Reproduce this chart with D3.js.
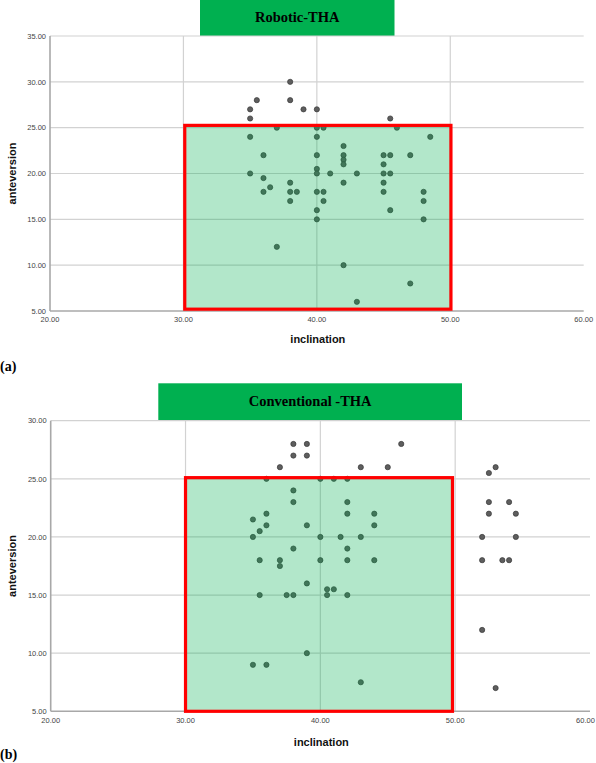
<!DOCTYPE html>
<html>
<head>
<meta charset="utf-8">
<script src="https://cdn.jsdelivr.net/npm/d3@7"></script>
<style>
  html, body { margin: 0; padding: 0; background: #fff; }
  svg { display: block; }
</style>
</head>
<body>
<svg id="chart" width="596" height="763"></svg>
<script>
// ---- Data ----
const xTicks = [20, 30, 40, 50, 60];
const yTicksA = [5, 10, 15, 20, 25, 30, 35];
const yTicksB = [5, 10, 15, 20, 25, 30];

// Robotic-THA: [inclination, anteversion]
const roboticInclination = [35.5,35,35,35,35,36,36,36,36.5,37,37,38,38,38,38,38.5,38,39,40,40,40.5,40,40,40,40,41,40,40.5,40.5,40,40,42,42,42,42,42,43,42,43,45.5,46,48.5,45,45.5,47,45,45,45.5,45,45,48,48,45.5,48,47];
const roboticAnteversion = [28,27,26,24,20,22,19.5,18,18.5,25,12,30,28,19,18,18,17,27,27,25,25,24,22,20.5,20,20,18,18,17,16,15,23,22,21.5,21,19,20,10,6,26,25,24,22,22,22,21,20,20,19,18,18,17,16,15,8];

// Conventional-THA
const convInclination = [38,39,46,38,39,37,43,45,53,52.5,36,40,41,42,38,38,42,52.5,54,36,42,44,52.5,54.5,35,36,39,44,35.5,35,40,41.5,43,52,54.5,38,42,35.5,37,40,42,44,52,53.5,54,37,39,40.5,41,35.5,37.5,38,40.5,42,52,39,35,36,43,53];
const convAnteversion = [28,28,28,27,27,26,26,26,26,25.5,25,25,25,25,24,23,23,23,23,22,22,22,22,22,21.5,21,21,21,20.5,20,20,20,20,20,20,19,19,18,18,18,18,18,18,18,18,17.5,16,15.5,15.5,15,15,15,15,15,12,10,9,9,7.5,7];

const boxA = { x0: 30.1, x1: 50.05, y0: 5.2, y1: 25.25 };
const boxB = { x0: 30.0, x1: 49.8, y0: 5.0, y1: 25.1 };

const titles = ["Robotic-THA", "Conventional -THA"];
const panelLabels = ["(a)", "(b)"];
const xLabel = "inclination";
const yLabel = "anteversion";

// ---- Drawing ----
const svg = d3.select("#chart");
const W = 596;
const green = "#00B050";

function drawPanel(cfg) {
  const g = svg.append("g");
  const x = d3.scaleLinear().domain([20, 60]).range([cfg.left, cfg.right]);
  const y = d3.scaleLinear().domain(cfg.yDomain).range([cfg.bottom, cfg.top]);

  // banner
  g.append("rect")
    .attr("x", cfg.bannerX0).attr("y", cfg.bannerY0)
    .attr("width", cfg.bannerX1 - cfg.bannerX0)
    .attr("height", cfg.bannerY1 - cfg.bannerY0)
    .attr("fill", green);
  g.append("text")
    .attr("x", (cfg.bannerX0 + cfg.bannerX1) / 2)
    .attr("y", cfg.titleBaseline)
    .attr("text-anchor", "middle")
    .attr("font-family", "'Liberation Serif', 'Times New Roman', serif")
    .attr("font-weight", "bold")
    .attr("font-size", "14.5px")
    .attr("fill", "#000")
    .text(cfg.title);

  // horizontal grid
  g.append("g").selectAll("line").data(cfg.yTicks.filter(d => d !== cfg.yDomain[0]))
    .join("line")
    .attr("x1", cfg.left).attr("x2", cfg.right)
    .attr("y1", d => y(d)).attr("y2", d => y(d))
    .attr("stroke", "#d2d2d2").attr("stroke-width", 1.2);
  // vertical grid
  g.append("g").selectAll("line").data(xTicks.filter(d => d > 20 && d < 60))
    .join("line")
    .attr("x1", d => x(d)).attr("x2", d => x(d))
    .attr("y1", cfg.top).attr("y2", cfg.bottom)
    .attr("stroke", "#d2d2d2").attr("stroke-width", 1.2);

  // axes lines
  g.append("line")
    .attr("x1", cfg.left).attr("x2", cfg.left)
    .attr("y1", cfg.top).attr("y2", cfg.bottom)
    .attr("stroke", "#a8a8a8").attr("stroke-width", 1.6);
  g.append("line")
    .attr("x1", cfg.left).attr("x2", cfg.right)
    .attr("y1", cfg.bottom).attr("y2", cfg.bottom)
    .attr("stroke", "#a8a8a8").attr("stroke-width", 1.6);

  // tick labels
  const tickFont = "'Liberation Sans', Arial, sans-serif";
  g.append("g").selectAll("text").data(cfg.yTicks)
    .join("text")
    .attr("x", cfg.left - 4)
    .attr("y", d => y(d) + 2.7)
    .attr("text-anchor", "end")
    .attr("font-family", tickFont)
    .attr("font-size", "7.5px")
    .attr("fill", "#444")
    .text(d => d3.format(".2f")(d));
  g.append("g").selectAll("text").data(xTicks)
    .join("text")
    .attr("x", d => Math.min(x(d), W - 10.5))
    .attr("y", cfg.bottom + cfg.xTickDy)
    .attr("text-anchor", "middle")
    .attr("font-family", tickFont)
    .attr("font-size", "7.5px")
    .attr("fill", "#444")
    .text(d => d3.format(".2f")(d));

  // points
  const pts = cfg.xs.map((v, i) => [v, cfg.ys[i]]);
  g.append("g").selectAll("circle").data(pts)
    .join("circle")
    .attr("cx", d => x(d[0]))
    .attr("cy", d => y(d[1]))
    .attr("r", 2.6)
    .attr("fill", "#5e5e5e")
    .attr("stroke", "#383838")
    .attr("stroke-width", 0.7);

  // green translucent box + red border
  const bx = x(cfg.box.x0), bx1 = x(cfg.box.x1);
  const by = y(cfg.box.y1), by1 = y(cfg.box.y0);
  g.append("rect")
    .attr("x", bx).attr("y", by)
    .attr("width", bx1 - bx).attr("height", by1 - by)
    .attr("fill", green).attr("fill-opacity", 0.3);
  g.append("rect")
    .attr("x", bx).attr("y", by)
    .attr("width", bx1 - bx).attr("height", by1 - by)
    .attr("fill", "none")
    .attr("stroke", "#ff0000").attr("stroke-width", 3.2);

  // axis titles
  g.append("text")
    .attr("x", (cfg.left + cfg.right) / 2 + 1)
    .attr("y", cfg.xLabelBaseline)
    .attr("text-anchor", "middle")
    .attr("font-family", tickFont)
    .attr("font-weight", "bold")
    .attr("font-size", "11px")
    .attr("fill", "#111")
    .text(xLabel);
  g.append("text")
    .attr("transform", `translate(16,${(cfg.top + cfg.bottom) / 2}) rotate(-90)`)
    .attr("text-anchor", "middle")
    .attr("font-family", tickFont)
    .attr("font-weight", "bold")
    .attr("font-size", "11px")
    .attr("fill", "#111")
    .text(yLabel);

  // panel label
  g.append("text")
    .attr("x", 0)
    .attr("y", cfg.panelBaseline)
    .attr("font-family", "'Liberation Serif', 'Times New Roman', serif")
    .attr("font-weight", "bold")
    .attr("font-size", "14px")
    .attr("fill", "#000")
    .text(cfg.panel);
}

drawPanel({
  left: 50, right: 583.7, top: 36, bottom: 311,
  yDomain: [5, 35], yTicks: yTicksA,
  xs: roboticInclination, ys: roboticAnteversion, box: boxA,
  bannerX0: 200, bannerX1: 394.5, bannerY0: 0, bannerY1: 36, titleBaseline: 22,
  title: titles[0], panel: panelLabels[0],
  xTickDy: 11, xLabelBaseline: 343, panelBaseline: 371
});

drawPanel({
  left: 50.7, right: 590, top: 420.7, bottom: 711.3,
  yDomain: [5, 30], yTicks: yTicksB,
  xs: convInclination, ys: convAnteversion, box: boxB,
  bannerX0: 158.3, bannerX1: 462, bannerY0: 383.3, bannerY1: 421, titleBaseline: 406,
  title: titles[1], panel: panelLabels[1],
  xTickDy: 11.5, xLabelBaseline: 746, panelBaseline: 759
});
</script>
</body>
</html>
